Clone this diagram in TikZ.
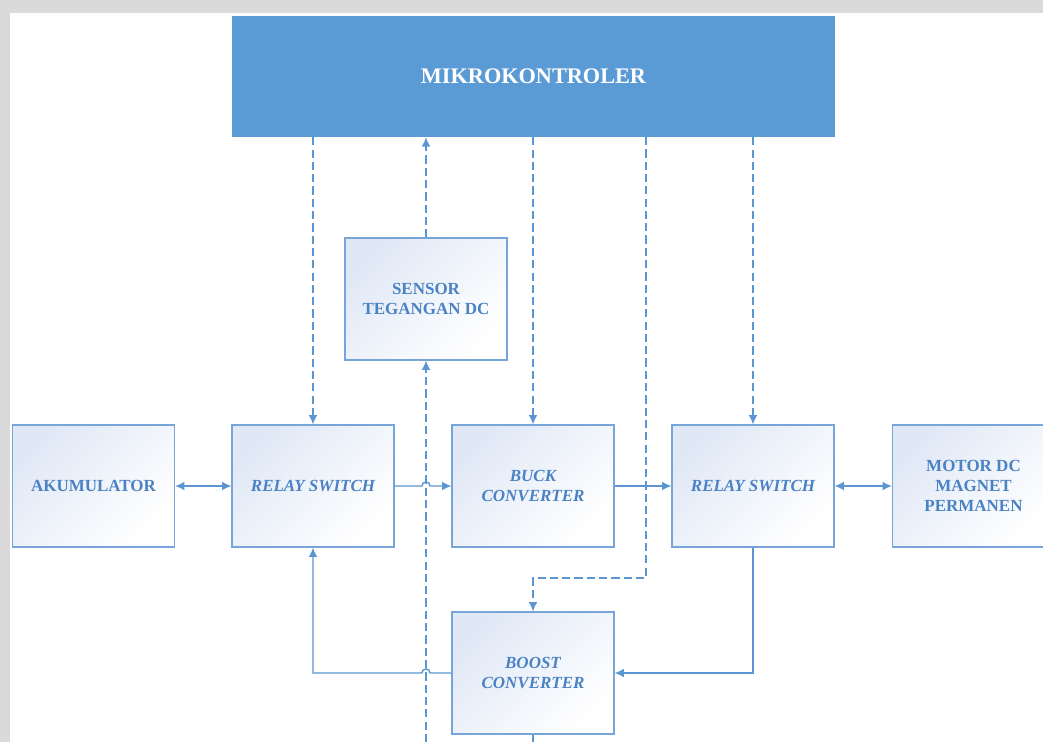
\documentclass[tikz,border=0pt]{standalone}
\usepackage{fontspec}
\setmainfont{Liberation Serif}
\usetikzlibrary{arrows.meta,calc,positioning}

\definecolor{mkblue}{RGB}{91,155,213}
\definecolor{lnblue}{RGB}{91,150,210}
\definecolor{boxline}{RGB}{120,165,215}
\definecolor{boxtop}{RGB}{224,232,246}
\definecolor{txtblue}{RGB}{74,130,195}
\definecolor{bggrey}{RGB}{218,218,218}

\begin{document}
\begin{tikzpicture}[x=0.03cm,y=-0.03cm,
	blok/.style={draw=boxline,line width=1pt,top color=boxtop,bottom color=white,shading angle=45,
		minimum width=4.86cm,minimum height=3.66cm,align=center,text=txtblue,
		font=\fontsize{14.5}{17}\selectfont\bfseries},
	ar/.style={draw=lnblue,line width=1.2pt,-{Latex[length=8pt,width=7.5pt]}},
	arr/.style={ar,{Latex[length=8pt,width=7.5pt]}-{Latex[length=8pt,width=7.5pt]}},
	ln/.style={draw=lnblue,line width=1.2pt},
	ctrl/.style={ar,dash pattern=on 7pt off 3.5pt}]
	\useasboundingbox (0,0) rectangle (1043,742);
	\clip (0,0) rectangle (1043,742);
	% page
	\fill[bggrey] (0,0) rectangle (1043,742);
	\fill[white] (10,13) rectangle (1043,742);
	% blocks
	\node[fill=mkblue,minimum width=18.09cm,minimum height=3.63cm,text=white,
		font=\fontsize{19}{22}\selectfont\bfseries] (mk) at (533.5,76.5) {MIKROKONTROLER};
	\node[blok] (sensor) at (426,299) {SENSOR\\TEGANGAN DC};
	\node[blok] (akum) at (93.5,486) {AKUMULATOR};
	\node[blok] (relayA) at (313,486) {\itshape RELAY SWITCH};
	\node[blok] (buck) at (533,486) {\itshape BUCK\\\itshape CONVERTER};
	\node[blok] (relayB) at (753,486) {\itshape RELAY SWITCH};
	\node[blok] (motor) at (973.5,486) {MOTOR DC\\MAGNET\\PERMANEN};
	\node[blok] (boost) at (533,673) {\itshape BOOST\\\itshape CONVERTER};
	\coordinate (mkBoost) at (646,137);
	\coordinate (senIn) at (426,742);
	\coordinate (bstOut) at (533,742);
	% control lines
	\draw[ctrl] (relayA.north |- mk.south) -- (relayA.north);
	\draw[ctrl] (sensor.north) -- (sensor.north |- mk.south);
	\draw[ctrl] (buck.north |- mk.south) -- (buck.north);
	\draw[ctrl] (mkBoost) -- ++(0,441) -| (boost.north);
	\draw[ctrl] (relayB.north |- mk.south) -- (relayB.north);
	\draw[ctrl] (senIn) -- (sensor.south);
	% power lines
	\draw[arr] (akum.east) -- (relayA.west);
	\draw[ar] (relayA.east) -- ([xshift=-3.5pt]sensor.south |- relayA.east)
		arc[start angle=180,end angle=0,radius=3.5pt] -- (buck.west);
	\draw[ar] (buck.east) -- (relayB.west);
	\draw[arr] (relayB.east) -- (motor.west);
	\draw[ar] (relayB.south) |- (boost.east);
	\draw[ar] (boost.west) -- ([xshift=3.5pt]sensor.south |- boost.west)
		arc[start angle=0,end angle=180,radius=3.5pt] -- (relayA.south |- boost.west) -- (relayA.south);
	\draw[ln] (boost.south) -- (bstOut);
\end{tikzpicture}
\end{document}
